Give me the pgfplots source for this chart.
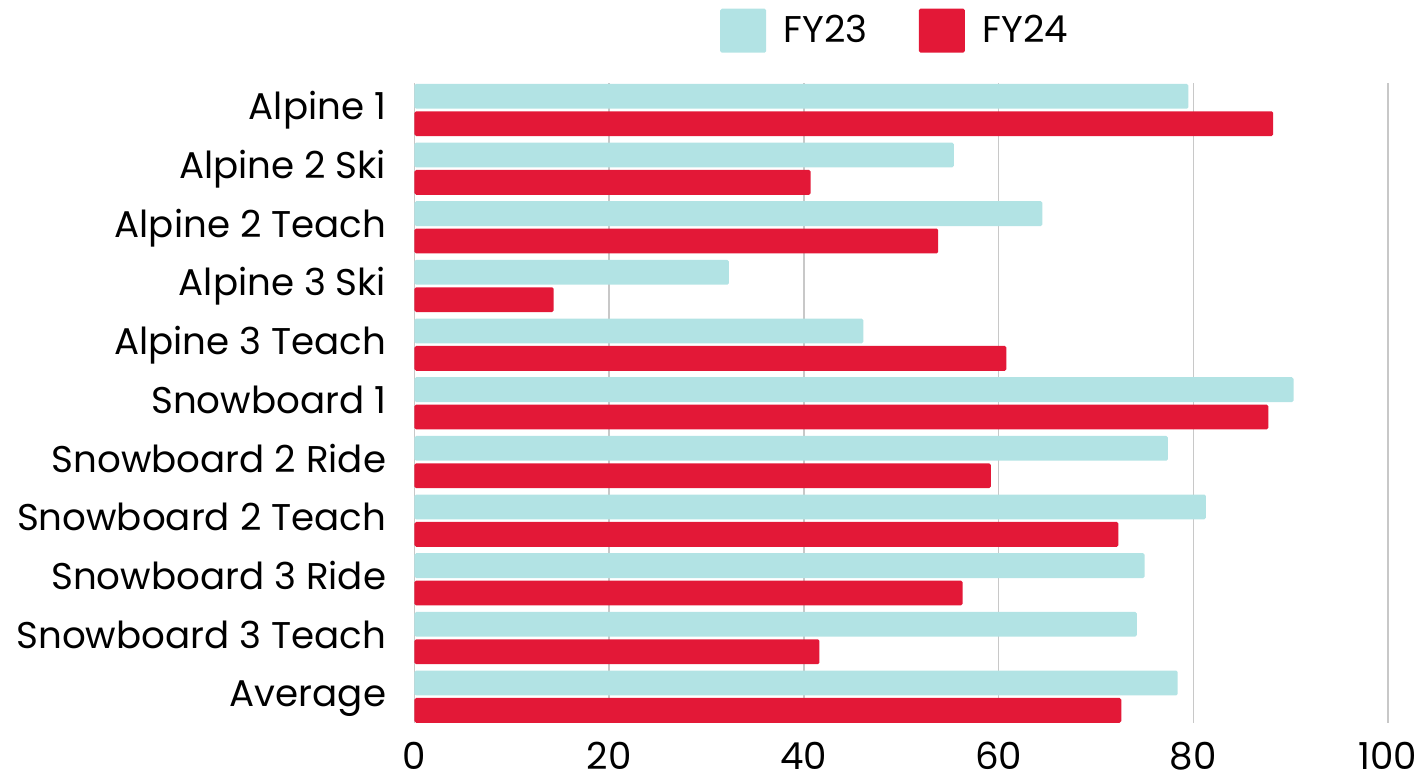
\documentclass[border=0pt]{standalone}
\usepackage{pgfplots}
\pgfplotsset{compat=1.18}
\usepackage{pgfplotstable}
\usepackage{fontspec}
\setmainfont{Poppins}
\definecolor{fyA}{RGB}{178,227,228}
\definecolor{fyB}{RGB}{227,24,55}
\definecolor{gridc}{RGB}{200,200,200}
\pgfplotstableread{
y FY23 FY24
10 79.5 88.2
9 55.4 40.7
8 64.5 53.8
7 32.3 14.3
6 46.1 60.8
5 90.3 87.7
4 77.4 59.2
3 81.3 72.3
2 75.0 56.3
1 74.2 41.6
0 78.4 72.6
}\datatable
\begin{document}
\begin{tikzpicture}
\path[use as bounding box] (-207.25pt,-26.75pt) rectangle (506.25pt,361.25pt);
\begin{axis}[
  at={(0pt,0pt)}, anchor=south west,
  scale only axis,
  width=486.75pt, height=319.75pt,
  xbar, bar width=12.4pt,
  xmin=0, xmax=100, ymin=-0.44, ymax=10.46,
  xtick={0,20,40,60,80,100},
  ytick={0,1,2,3,4,5,6,7,8,9,10},
  yticklabels={Average,Snowboard 3 Teach,Snowboard 3 Ride,Snowboard 2 Teach,Snowboard 2 Ride,Snowboard 1,Alpine 3 Teach,Alpine 3 Ski,Alpine 2 Teach,Alpine 2 Ski,Alpine 1},
  major tick length=0pt,
  axis line style={draw=none},
  xmajorgrids, grid style={gridc, line width=0.75pt},
  /pgf/number format/assume math mode=true,
  tick label style={font=\fontsize{18.6pt}{22pt}\selectfont},
  yticklabel style={anchor=base east, inner sep=0pt, xshift=-14pt, yshift=-5pt},
  xticklabel style={anchor=base, inner sep=0pt, yshift=-23.6pt},
  legend style={at={(0.4926,1.0818)}, anchor=center, draw=none, fill=none, inner sep=0pt,
    font=\fontsize{18.6pt}{22pt}\selectfont,
    nodes={inner sep=0pt},
    /tikz/every odd column/.append style={column sep=8.85pt},
    /tikz/every even column/.append style={column sep=25.6pt}},
  legend columns=2,
  legend image code/.code={\fill[#1] (0pt,-11pt) rectangle (23pt,11pt);},
]
\addplot[fill=fyA, draw=none, bar shift=6.85pt, rounded corners=0.8pt] table[x=FY23,y=y]{\datatable};
\addlegendentry{FY23}
\addplot[fill=fyB, draw=none, bar shift=-6.85pt, rounded corners=0.8pt] table[x=FY24,y=y]{\datatable};
\addlegendentry{FY24}
\end{axis}
\end{tikzpicture}
\end{document}
